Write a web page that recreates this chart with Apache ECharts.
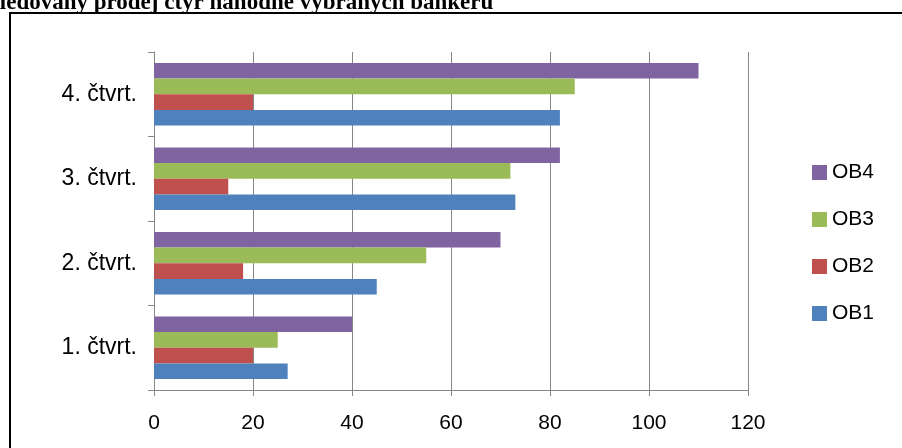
<!DOCTYPE html>
<html>
<head>
<meta charset="utf-8">
<script src="https://cdn.jsdelivr.net/npm/echarts@6/dist/echarts.min.js"></script>
<style>html,body{margin:0;padding:0;background:#fff;}#c{width:902px;height:448px;}</style>
</head>
<body>
<div id="c"></div>
<script>
const categories = ['1. čtvrt.', '2. čtvrt.', '3. čtvrt.', '4. čtvrt.'];
const seriesNames = ['OB4', 'OB3', 'OB2', 'OB1'];
const OB1 = [27, 45, 73, 82];
const OB2 = [20, 18, 15, 20];
const OB3 = [25, 55, 72, 85];
const OB4 = [40, 70, 82, 110];
const xTicks = [0, 20, 40, 60, 80, 100, 120];
const titleText = 'Sledovaný prodej čtyř náhodně vybraných bankéřů';

const colors = {OB1: '#4F81BD', OB2: '#C0504D', OB3: '#9BBB59', OB4: '#8064A2'};
const values = {OB1, OB2, OB3, OB4};
const font = 'Liberation Sans';

const chart = echarts.init(document.getElementById('c'), null, {renderer: 'canvas'});
chart.setOption({
  animation: false,
  backgroundColor: '#fff',
  graphic: [
    {type: 'text', left: -13, top: -8, style: {text: titleText, font: 'bold 23px "Liberation Serif"', fill: '#000'}},
    {type: 'polyline', shape: {points: [[10, 450], [10, 13], [904, 13]]}, style: {stroke: '#000', lineWidth: 2, fill: null}}
  ],
  legend: {
    orient: 'vertical', left: 807, top: 157, itemWidth: 15, itemHeight: 15, itemGap: 26,
    data: ['OB4', 'OB3', 'OB2', 'OB1'],
    icon: 'rect', itemStyle: {borderWidth: 0},
    textStyle: {fontFamily: font, fontSize: 21, color: '#000'}
  },
  grid: {left: 154, right: 154, top: 52, bottom: 58, containLabel: false},
  xAxis: {
    type: 'value', min: xTicks[0], max: xTicks[xTicks.length - 1], interval: 20,
    axisLine: {show: true, lineStyle: {color: '#868686', width: 1}},
    axisTick: {show: true, length: 6, lineStyle: {color: '#868686'}},
    splitLine: {show: true, lineStyle: {color: '#868686', width: 1}},
    axisLabel: {margin: 23, fontFamily: font, fontSize: 21, color: '#000'}
  },
  yAxis: {
    type: 'category', data: categories,
    axisLine: {show: true, lineStyle: {color: '#868686', width: 1}},
    axisTick: {show: true, length: 6, lineStyle: {color: '#868686'}},
    axisLabel: {margin: 17, fontFamily: font, fontSize: 23, color: '#000'}
  },
  series: seriesNames.map(n => ({
    name: n, type: 'bar', data: values[n],
    barGap: '0%', barCategoryGap: '26%',
    itemStyle: {color: colors[n]}
  }))
});
</script>
</body>
</html>
